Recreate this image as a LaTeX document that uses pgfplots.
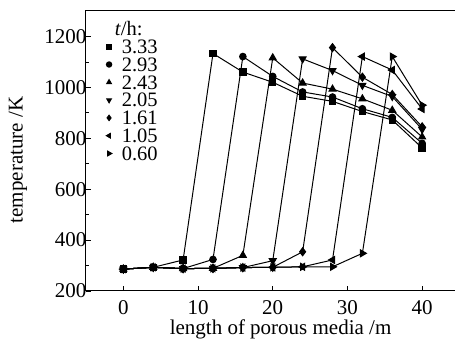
\documentclass[border=0pt]{standalone}
\usepackage{fontspec}
\setmainfont{Liberation Serif}
\usepackage{pgfplots}
\pgfplotsset{compat=1.18}
\begin{document}
\begin{tikzpicture}
\begin{axis}[
  name=ax, at={(0pt,0pt)}, anchor=south west,
  scale only axis, width=373.5pt, height=280pt,
  xmin=-5, xmax=45, ymin=200, ymax=1300,
  xtick={0,10,20,30,40}, ytick={200,400,600,800,1000,1200},
  minor y tick num=1,
  xtick pos=left, ytick pos=left,
  tick align=inside,
  major tick length=5pt, minor tick length=3pt,
  every tick/.style={black, line width=0.8pt},
  axis line style={line width=1pt},
  /pgf/number format/assume math mode=true,
  /pgf/number format/1000 sep={},
  tick label style={font=\fontsize{21}{24}\selectfont},
  xticklabel style={yshift=-6pt},
  yticklabel style={xshift=4pt},
  xlabel={length of porous media /m},
  ylabel={temperature /K},
  xlabel style={at={(axis description cs:0.521,-0.136)}, anchor=center},
  ylabel style={at={(axis description cs:-0.182,0.468)}, anchor=center},
  label style={font=\fontsize{21}{24}\selectfont},
  every axis plot/.append style={black, line width=1pt},
  legend cell align=left,
  legend image code/.code={\draw[#1, only marks] plot coordinates {(0pt,0pt)};},
  legend image post style={mark size=2.7pt},
  legend style={at={(axis description cs:0.046,0.968)}, anchor=north west,
    draw=none, fill=none, font=\fontsize{20.5}{20.5}\selectfont,
    nodes={inner sep=0pt, anchor=west, text height=13.5pt, text depth=0pt}, row sep=4.3pt,
    /tikz/every odd column/.append style={column sep=10pt}},
]
\addlegendimage{empty legend}
\addlegendentry{\hspace{-7pt}\textit{t}/h:}
\addplot[mark=square*, mark size=3.2pt] coordinates {(0,286)(4,293)(8,322)(12,1133)(16,1060)(20,1020)(24,965)(28,945)(32,905)(36,872)(40,762)};
\addlegendentry{3.33}
\addplot[mark=*, mark size=3.3pt] coordinates {(0,286)(4,293)(8,288)(12,324)(16,1121)(20,1043)(24,982)(28,962)(32,916)(36,882)(40,780)};
\addlegendentry{2.93}
\addplot[mark=triangle*, mark size=4pt] coordinates {(0,286)(4,293)(8,288)(12,289)(16,340)(20,1116)(24,1017)(28,993)(32,955)(36,910)(40,805)};
\addlegendentry{2.43}
\addplot[mark=triangle*, mark size=4pt, mark options={rotate=180}] coordinates {(0,286)(4,293)(8,288)(12,289)(16,292)(20,319)(24,1112)(28,1066)(32,1008)(36,964)(40,835)};
\addlegendentry{2.05}
\addplot[mark=diamond*, mark size=4pt] coordinates {(0,286)(4,293)(8,288)(12,289)(16,292)(20,293)(24,354)(28,1156)(32,1040)(36,972)(40,845)};
\addlegendentry{1.61}
\addplot[mark=triangle*, mark size=4pt, mark options={rotate=90}] coordinates {(0,286)(4,293)(8,288)(12,289)(16,292)(20,293)(24,295)(28,322)(32,1121)(36,1068)(40,915)};
\addlegendentry{1.05}
\addplot[mark=triangle*, mark size=4pt, mark options={rotate=-90}] coordinates {(0,286)(4,293)(8,288)(12,289)(16,292)(20,293)(24,295)(28,295)(32,348)(36,1121)(40,930)};
\addlegendentry{0.60}
\end{axis}
\pgfresetboundingbox
\path[use as bounding box] ([shift={(-86pt,-56pt)}]ax.south west) rectangle ([shift={(369pt,291pt)}]ax.south west);
\end{tikzpicture}
\end{document}
